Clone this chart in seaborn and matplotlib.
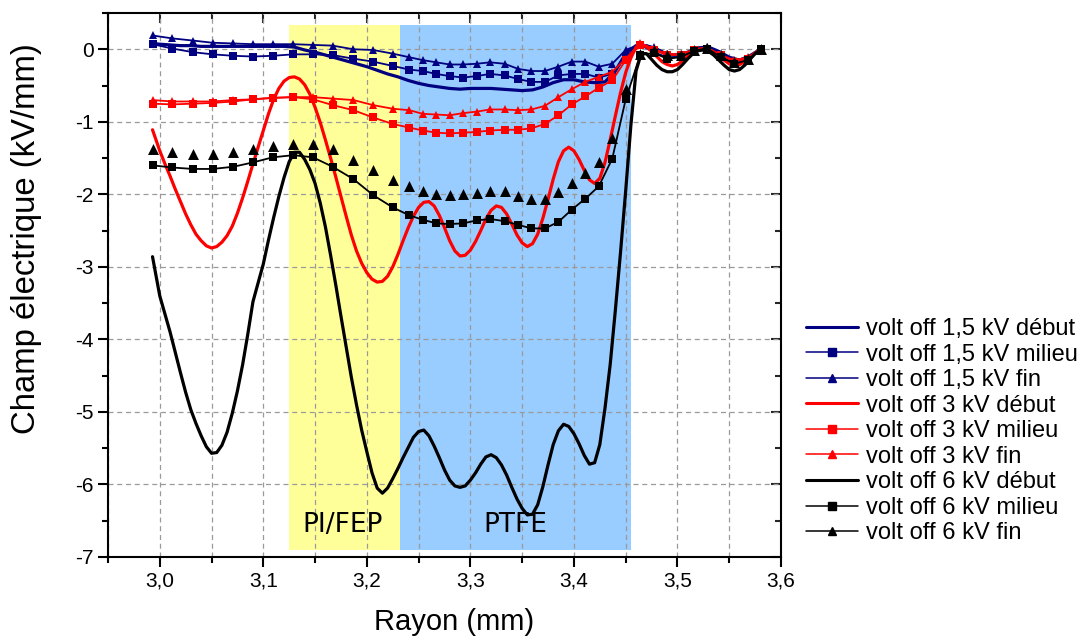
import numpy as np
import pandas as pd
import seaborn as sns
import matplotlib.pyplot as plt
from matplotlib.lines import Line2D
from matplotlib.ticker import MultipleLocator

# rayons des points de mesure (milieu / fin)
r_points = [2.993, 3.012, 3.032, 3.051, 3.071, 3.090, 3.109, 3.129, 3.148, 3.167,
            3.187, 3.206, 3.225, 3.241, 3.254, 3.267, 3.280, 3.293, 3.306, 3.319,
            3.333, 3.346, 3.359, 3.372, 3.385, 3.398, 3.411, 3.424, 3.437, 3.450,
            3.464, 3.477, 3.490, 3.503, 3.516, 3.529, 3.542, 3.555, 3.568, 3.581]

# rayons de la courbe 1,5 kV "début"
r_debut = [2.993, 3.00, 3.01, 3.02, 3.03, 3.04, 3.05, 3.06, 3.07, 3.08, 3.09,
           3.10, 3.11, 3.12, 3.13, 3.14, 3.15, 3.16, 3.17, 3.18, 3.19,
           3.20, 3.21, 3.22, 3.23, 3.24, 3.25, 3.26, 3.27, 3.28, 3.29,
           3.30, 3.31, 3.32, 3.33, 3.34, 3.35, 3.36, 3.37, 3.38, 3.39,
           3.40, 3.41, 3.42, 3.43, 3.44, 3.45, 3.46, 3.47, 3.48, 3.49,
           3.50, 3.51, 3.52, 3.53, 3.54, 3.55, 3.56, 3.57, 3.58]

# rayons plus serres pour les courbes 3 kV et 6 kV "début"
r_debut_fin = [2.993,
               3.000, 3.005, 3.010, 3.015, 3.020, 3.025, 3.030, 3.035, 3.040, 3.045,
               3.050, 3.055, 3.060, 3.065, 3.070, 3.075, 3.080, 3.085, 3.090, 3.095,
               3.100, 3.105, 3.110, 3.115, 3.120, 3.125, 3.130, 3.135, 3.140, 3.145,
               3.150, 3.155, 3.160, 3.165, 3.170, 3.175, 3.180, 3.185, 3.190, 3.195,
               3.200, 3.205, 3.210, 3.215, 3.220, 3.225, 3.230, 3.235, 3.240, 3.245,
               3.250, 3.255, 3.260, 3.265, 3.270, 3.275, 3.280, 3.285, 3.290, 3.295,
               3.300, 3.305, 3.310, 3.315, 3.320, 3.325, 3.330, 3.335, 3.340, 3.345,
               3.350, 3.355, 3.360, 3.365, 3.370, 3.375, 3.380, 3.385, 3.390, 3.395,
               3.400, 3.405, 3.410, 3.415, 3.420, 3.425, 3.430, 3.435, 3.440, 3.445,
               3.450, 3.455, 3.460, 3.465, 3.470, 3.475, 3.480, 3.485, 3.490, 3.495,
               3.500, 3.505, 3.510, 3.515, 3.520, 3.525, 3.530, 3.535, 3.540, 3.545,
               3.550, 3.555, 3.560, 3.565, 3.570, 3.575, 3.580]

bleu_debut = [0.08, 0.07, 0.06, 0.05, 0.05, 0.04, 0.04, 0.04, 0.04, 0.04, 0.04,
              0.04, 0.04, 0.04, 0.03, -0.01, -0.04, -0.08, -0.12, -0.16, -0.20,
              -0.24, -0.29, -0.34, -0.38, -0.43, -0.47, -0.50, -0.52, -0.54, -0.55,
              -0.54, -0.54, -0.54, -0.55, -0.56, -0.57, -0.56, -0.52, -0.46, -0.42,
              -0.42, -0.45, -0.46, -0.45, -0.30, -0.06, 0.05, 0.05, 0.00, -0.07,
              -0.09, -0.04, 0.02, 0.03, -0.03, -0.11, -0.15, -0.09, 0.00]
bleu_milieu = [0.07, 0.01, -0.04, -0.07, -0.09, -0.10, -0.09, -0.07, -0.07, -0.08,
               -0.13, -0.17, -0.23, -0.28, -0.30, -0.34, -0.37, -0.39, -0.37, -0.34,
               -0.36, -0.41, -0.45, -0.45, -0.36, -0.34, -0.34, -0.39, -0.34, -0.11,
               0.06, -0.04, -0.11, -0.11, -0.02, 0.00, -0.10, -0.19, -0.15, 0.00]
bleu_fin = [0.19, 0.15, 0.12, 0.09, 0.08, 0.07, 0.07, 0.07, 0.06, 0.05,
            0.00, -0.01, -0.06, -0.11, -0.15, -0.18, -0.21, -0.21, -0.20, -0.18,
            -0.20, -0.27, -0.30, -0.30, -0.24, -0.17, -0.17, -0.24, -0.20, -0.01,
            0.07, 0.03, -0.06, -0.08, -0.01, 0.03, -0.06, -0.15, -0.13, -0.01]

rouge_debut = [-1.11,
               -1.40, -1.58, -1.75, -1.93, -2.10, -2.27, -2.42, -2.55, -2.64, -2.71,
               -2.74, -2.72, -2.66, -2.57, -2.44, -2.26, -2.05, -1.82, -1.58, -1.35,
               -1.12, -0.89, -0.69, -0.54, -0.44, -0.39, -0.38, -0.41, -0.49, -0.62,
               -0.80, -1.01, -1.25, -1.50, -1.76, -2.03, -2.30, -2.56, -2.78, -2.95,
               -3.08, -3.17, -3.21, -3.20, -3.13, -3.00, -2.83, -2.64, -2.46, -2.30,
               -2.18, -2.11, -2.10, -2.16, -2.29, -2.46, -2.64, -2.78, -2.85, -2.84,
               -2.77, -2.65, -2.50, -2.34, -2.22, -2.16, -2.18, -2.27, -2.41, -2.56,
               -2.67, -2.72, -2.68, -2.55, -2.33, -2.07, -1.79, -1.55, -1.40, -1.35,
               -1.40, -1.52, -1.67, -1.80, -1.85, -1.78, -1.56, -1.25, -0.92, -0.60,
               -0.32, -0.12, 0.03, 0.07, 0.04, -0.03, -0.10, -0.17, -0.21, -0.23,
               -0.21, -0.16, -0.09, -0.03, 0.00, 0.01, 0.00, -0.04, -0.09, -0.15,
               -0.20, -0.22, -0.21, -0.17, -0.11, -0.05, -0.01]
rouge_milieu = [-0.75, -0.76, -0.75, -0.74, -0.72, -0.69, -0.67, -0.66, -0.69, -0.77,
                -0.84, -0.94, -1.03, -1.08, -1.12, -1.15, -1.16, -1.15, -1.14, -1.12,
                -1.11, -1.11, -1.09, -1.03, -0.91, -0.76, -0.65, -0.53, -0.43, -0.15,
                0.06, -0.01, -0.08, -0.08, -0.01, 0.01, -0.08, -0.17, -0.13, 0.00]
rouge_fin = [-0.70, -0.72, -0.72, -0.72, -0.70, -0.69, -0.67, -0.66, -0.66, -0.68,
             -0.70, -0.77, -0.82, -0.84, -0.89, -0.90, -0.91, -0.88, -0.86, -0.83,
             -0.83, -0.84, -0.83, -0.78, -0.66, -0.55, -0.45, -0.38, -0.31, -0.13,
             0.08, 0.01, -0.07, -0.06, -0.01, 0.02, -0.08, -0.15, -0.11, 0.00]

noir_debut = [-2.86,
              -3.40, -3.65, -3.90, -4.18, -4.46, -4.73, -4.97, -5.16, -5.33, -5.48,
              -5.57, -5.56, -5.46, -5.28, -5.02, -4.71, -4.35, -3.93, -3.48, -3.22,
              -2.96, -2.63, -2.32, -2.03, -1.77, -1.55, -1.42, -1.42, -1.52, -1.66,
              -1.85, -2.12, -2.45, -2.84, -3.25, -3.68, -4.10, -4.52, -4.90, -5.25,
              -5.55, -5.84, -6.05, -6.12, -6.05, -5.92, -5.78, -5.63, -5.49, -5.35,
              -5.27, -5.25, -5.33, -5.47, -5.63, -5.80, -5.94, -6.02, -6.04, -6.02,
              -5.94, -5.84, -5.72, -5.62, -5.59, -5.63, -5.73, -5.87, -6.04, -6.20,
              -6.33, -6.42, -6.41, -6.28, -6.03, -5.73, -5.45, -5.26, -5.17, -5.20,
              -5.30, -5.44, -5.60, -5.72, -5.70, -5.45, -4.95, -4.35, -3.60, -2.80,
              -1.95, -1.05, -0.30, -0.06, -0.06, -0.14, -0.22, -0.28, -0.31, -0.31,
              -0.28, -0.21, -0.13, -0.06, -0.02, -0.01, -0.03, -0.08, -0.15, -0.22,
              -0.28, -0.30, -0.28, -0.22, -0.14, -0.06, -0.01]
noir_milieu = [-1.60, -1.63, -1.65, -1.65, -1.62, -1.56, -1.49, -1.46, -1.49, -1.62,
               -1.79, -2.01, -2.18, -2.29, -2.35, -2.40, -2.41, -2.40, -2.36, -2.34,
               -2.37, -2.42, -2.47, -2.47, -2.38, -2.21, -2.06, -1.89, -1.51, -0.69,
               -0.08, -0.05, -0.13, -0.11, -0.02, 0.01, -0.11, -0.20, -0.15, 0.01]
noir_fin = [-1.37, -1.42, -1.44, -1.44, -1.42, -1.38, -1.33, -1.30, -1.31, -1.38,
            -1.53, -1.66, -1.80, -1.89, -1.95, -1.99, -2.01, -1.99, -1.98, -1.95,
            -1.96, -2.02, -2.06, -2.06, -1.97, -1.84, -1.71, -1.56, -1.23, -0.55,
            -0.06, -0.01, -0.08, -0.08, -0.01, 0.02, -0.08, -0.17, -0.13, 0.01]

# zones des materiaux
zones_noms = ["PI/FEP", "PTFE"]
zones_debut = [3.125, 3.232]
zones_fin = [3.232, 3.455]
zones_couleurs = ["#FFFF99", "#99CCFF"]
zones_bas, zones_haut = -6.9, 0.33
zones_texte_x = [3.177, 3.343]
zones_texte_y = -6.56

x_ticks = [3.0, 3.1, 3.2, 3.3, 3.4, 3.5, 3.6]
x_tick_labels = ["3,0", "3,1", "3,2", "3,3", "3,4", "3,5", "3,6"]
y_ticks = [-7, -6, -5, -4, -3, -2, -1, 0]
y_tick_labels = ["-7", "-6", "-5", "-4", "-3", "-2", "-1", "0"]

BLEU, ROUGE, NOIR = "#000080", "#FF0000", "#000000"

sns.set_theme(style="ticks")
plt.rcParams['font.family'] = ['Liberation Sans', 'DejaVu Sans']
plt.rcParams['axes.unicode_minus'] = False
plt.rcParams['text.color'] = 'black'
plt.rcParams['axes.labelcolor'] = 'black'

fig = plt.figure(figsize=(10.8, 6.37), dpi=100)
ax = fig.add_axes([108 / 1080, 80 / 637, 673 / 1080, 544 / 637])

for x0, x1, c in zip(zones_debut, zones_fin, zones_couleurs):
    ax.fill_between([x0, x1], zones_bas, zones_haut, color=c, lw=0, zorder=0.3)
for nom, xt in zip(zones_noms, zones_texte_x):
    ax.text(xt, zones_texte_y, nom, ha='center', va='center', fontsize=19,
            family='DejaVu Sans', color='black', zorder=3)

series = [
    ("volt off 1,5 kV début", r_debut, bleu_debut, BLEU, None),
    ("volt off 1,5 kV milieu", r_points, bleu_milieu, BLEU, 's'),
    ("volt off 1,5 kV fin", r_points, bleu_fin, BLEU, '^'),
    ("volt off 3 kV début", r_debut_fin, rouge_debut, ROUGE, None),
    ("volt off 3 kV milieu", r_points, rouge_milieu, ROUGE, 's'),
    ("volt off 3 kV fin", r_points, rouge_fin, ROUGE, '^'),
    ("volt off 6 kV début", r_debut_fin, noir_debut, NOIR, None),
    ("volt off 6 kV milieu", r_points, noir_milieu, NOIR, 's'),
    ("volt off 6 kV fin", r_points, noir_fin, NOIR, '^'),
]

handles = []
for nom, xs, ys, c, m in series:
    df = pd.DataFrame({'r': xs, 'E': ys})
    if m is None:
        sns.lineplot(data=df, x='r', y='E', ax=ax, color=c, lw=2.3,
                     errorbar=None, legend=False, zorder=2)
        handles.append(Line2D([], [], color=c, lw=2.2))
    elif nom.endswith("6 kV fin"):
        # points seuls, sans ligne
        sns.scatterplot(data=df, x='r', y='E', ax=ax, color=c, marker=m,
                        s=62, linewidth=0, legend=False, zorder=2)
        handles.append(Line2D([], [], color=c, lw=1.1, marker=m, markersize=5.5))
    else:
        sns.lineplot(data=df, x='r', y='E', ax=ax, color=c, lw=1.3,
                     marker=m, markersize=6 if m == '^' else 5.5,
                     markeredgewidth=0, markeredgecolor=c,
                     errorbar=None, legend=False, zorder=2)
        handles.append(Line2D([], [], color=c, lw=1.1, marker=m, markersize=5.5))

ax.set_xlim(2.95, 3.6)
ax.set_ylim(-7, 0.5)
ax.set_xticks(x_ticks)
ax.set_xticklabels(x_tick_labels)
ax.set_yticks(y_ticks)
ax.set_yticklabels(y_tick_labels)
ax.xaxis.set_minor_locator(MultipleLocator(0.05))
ax.yaxis.set_minor_locator(MultipleLocator(0.5))

grille = dict(color='#9a9a9a', linestyle=(0, (4, 3)), linewidth=0.9)
ax.xaxis.grid(True, which='both', **grille)
ax.yaxis.grid(True, which='major', **grille)

ax.tick_params(which='both', direction='out', width=1.5,
               color='black', labelsize=15, labelcolor='black')
ax.tick_params(which='major', length=7)
ax.tick_params(which='minor', length=4)
for s in ax.spines.values():
    s.set_linewidth(1.5)
    s.set_color('black')

haut = ax.secondary_xaxis('top')
haut.set_xticks(x_ticks)
haut.xaxis.set_minor_locator(MultipleLocator(0.05))
haut.tick_params(which='both', direction='in', width=1.5, labeltop=False)
haut.tick_params(which='major', length=7)
haut.tick_params(which='minor', length=4)
droite = ax.secondary_yaxis('right')
droite.set_yticks(y_ticks)
droite.yaxis.set_minor_locator(MultipleLocator(0.5))
droite.tick_params(which='both', direction='in', width=1.5, labelright=False)
droite.tick_params(which='major', length=7)
droite.tick_params(which='minor', length=4)

ax.set_xlabel("Rayon (mm)", fontsize=21)
ax.set_ylabel("Champ électrique (kV/mm)", fontsize=23.7)
ax.xaxis.set_label_coords(0.514, -0.094)
ax.yaxis.set_label_coords(-0.098, 0.585)

fig.legend(handles, [s[0] for s in series], loc='upper left',
           bbox_to_anchor=(806 / 1080, 1 - 318 / 637), frameon=False,
           fontsize=17, handlelength=2.2, handletextpad=0.35,
           labelspacing=0.15, borderpad=0, borderaxespad=0)

fig.savefig("out.png", dpi=100)
